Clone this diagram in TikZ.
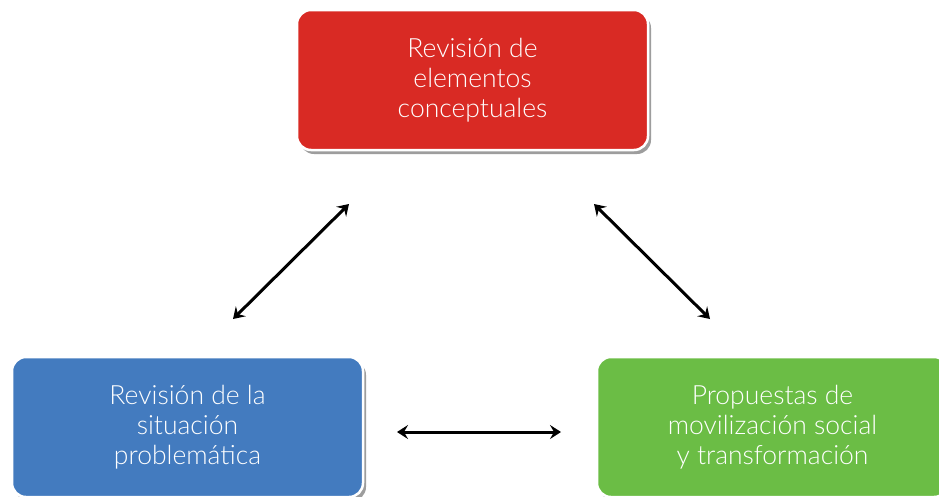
\documentclass[tikz,border=0pt]{standalone}
\usepackage{fontspec}
\setmainfont{Lato}[UprightFont=* Light]
\usetikzlibrary{arrows.meta,shadows}
\definecolor{boxred}{HTML}{D92A24}
\definecolor{boxblue}{HTML}{437BBF}
\definecolor{boxgreen}{HTML}{6BBD45}
\begin{document}
\begin{tikzpicture}[x=1pt,y=1pt,
  card/.style={draw=white,line width=2.5pt,rounded corners=14pt,minimum width=351pt,minimum height=140pt,
    inner sep=0pt,text=white,align=center,font=\fontsize{26.5}{30}\selectfont,
    drop shadow={shadow xshift=3pt,shadow yshift=-4pt,opacity=0.55,fill=black!70}},
  link/.style={line width=3pt,{Stealth[length=11pt,width=14pt,inset=4pt]}-{Stealth[length=11pt,width=14pt,inset=4pt]}}]
\useasboundingbox (0,0) rectangle (939,-496);
\node[card,fill=boxred] (top) at (472.5,-80) {Revisión de\\elementos\\conceptuales};
\node[card,fill=boxblue] (left) at (187.5,-427) {Revisión de la\\situación\\problemática};
\node[card,fill=boxgreen] (right) at (772.5,-427) {Propuestas de\\movilización social\\y transformación};
\coordinate (a1) at (233,-319);
\coordinate (a2) at (349,-204);
\coordinate (b1) at (594,-204);
\coordinate (b2) at (710,-319);
\coordinate (c1) at (397,-432);
\coordinate (c2) at (561,-432);
\draw[link] (a1) -- (a2);
\draw[link] (b1) -- (b2);
\draw[link] (c1) -- (c2);
\end{tikzpicture}
\end{document}
